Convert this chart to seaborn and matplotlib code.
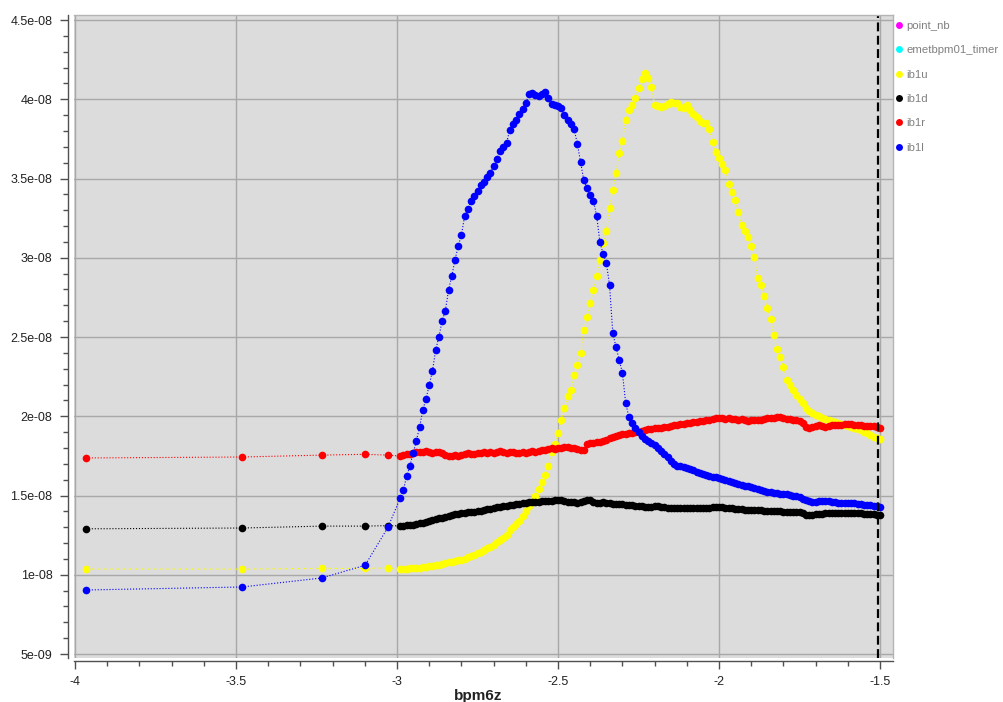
import numpy as np
import matplotlib
matplotlib.use('Agg')
import matplotlib.pyplot as plt
from matplotlib.lines import Line2D
from matplotlib.ticker import MultipleLocator, AutoMinorLocator, FuncFormatter
import seaborn as sns

sns.set_theme(style='ticks')
plt.rcParams['font.family'] = ['Liberation Sans', 'DejaVu Sans']

# scan positions (bpm6z)
bpm6z = [-3.966, -3.481, -3.233, -3.099, -3.028,
         -2.99, -2.98, -2.97, -2.96, -2.95, -2.94, -2.93, -2.92, -2.91, -2.90,
         -2.89, -2.88, -2.87, -2.86, -2.85, -2.84, -2.83, -2.82, -2.81, -2.80,
         -2.79, -2.78, -2.77, -2.76, -2.75, -2.74, -2.73, -2.72, -2.71, -2.70,
         -2.69, -2.68, -2.67, -2.66, -2.65, -2.64, -2.63, -2.62, -2.61, -2.60,
         -2.59, -2.58, -2.57, -2.56, -2.55, -2.54, -2.53, -2.52, -2.51, -2.50,
         -2.49, -2.48, -2.47, -2.46, -2.45, -2.44, -2.43, -2.42, -2.41, -2.40,
         -2.39, -2.38, -2.37, -2.36, -2.35, -2.34, -2.33, -2.32, -2.31, -2.30,
         -2.29, -2.28, -2.27, -2.26, -2.25, -2.24, -2.23, -2.22, -2.21, -2.20,
         -2.19, -2.18, -2.17, -2.16, -2.15, -2.14, -2.13, -2.12, -2.11, -2.10,
         -2.09, -2.08, -2.07, -2.06, -2.05, -2.04, -2.03, -2.02, -2.01, -2.00,
         -1.99, -1.98, -1.97, -1.96, -1.95, -1.94, -1.93, -1.92, -1.91, -1.90,
         -1.89, -1.88, -1.87, -1.86, -1.85, -1.84, -1.83, -1.82, -1.81, -1.80,
         -1.79, -1.78, -1.77, -1.76, -1.75, -1.74, -1.73, -1.72, -1.71, -1.70,
         -1.69, -1.68, -1.67, -1.66, -1.65, -1.64, -1.63, -1.62, -1.61, -1.60,
         -1.59, -1.58, -1.57, -1.56, -1.55, -1.54, -1.53, -1.52, -1.51, -1.50]

# currents, in units of 1e-9
ib1u = [10.36, 10.36, 10.40, 10.40, 10.43,
        10.36, 10.36, 10.36, 10.43, 10.43, 10.43, 10.43, 10.49, 10.49, 10.55,
        10.55, 10.62, 10.62, 10.68, 10.74, 10.80, 10.80, 10.87, 10.93, 10.93,
        10.99, 11.12, 11.18, 11.25, 11.37, 11.44, 11.56, 11.69, 11.75, 11.88,
        12.07, 12.19, 12.32, 12.51, 12.82, 13.01, 13.20, 13.39, 13.71, 14.02,
        14.34, 14.59, 14.97, 15.41, 15.85, 16.29, 16.86, 17.74, 18.25, 18.94,
        19.76, 20.52, 21.28, 21.66, 22.60, 23.23, 23.99, 25.44, 26.26, 27.14,
        27.96, 28.85, 29.86, 30.93, 31.69, 33.14, 34.27, 35.35, 36.61, 37.37,
        38.69, 39.32, 39.64, 40.08, 40.71, 41.28, 41.66, 41.34, 40.77, 39.64,
        39.57, 39.51, 39.57, 39.70, 39.83, 39.76, 39.76, 39.51, 39.45, 39.64,
        39.32, 39.07, 38.88, 38.63, 38.50, 38.50, 38.12, 37.30, 36.67, 36.29,
        35.91, 35.54, 34.65, 34.15, 33.64, 32.89, 32.07, 31.69, 31.31, 30.74,
        30.05, 28.72, 28.28, 27.59, 26.83, 26.14, 25.13, 24.24, 23.74, 23.11,
        22.29, 21.97, 21.66, 21.34, 21.09, 20.84, 20.52, 20.33, 20.20, 20.08,
        20.02, 19.89, 19.83, 19.76, 19.70, 19.64, 19.57, 19.51, 19.45, 19.38,
        19.32, 19.26, 19.20, 19.13, 19.01, 18.94, 18.82, 18.69, 18.63, 18.56]

ib1d = [12.90, 12.95, 13.07, 13.07, 13.10,
        13.08, 13.08, 13.14, 13.14, 13.14, 13.20, 13.26, 13.26, 13.33, 13.39,
        13.45, 13.52, 13.58, 13.58, 13.64, 13.71, 13.77, 13.83, 13.83, 13.90,
        13.90, 13.96, 13.96, 13.96, 14.02, 14.02, 14.09, 14.15, 14.15, 14.21,
        14.27, 14.27, 14.34, 14.34, 14.40, 14.40, 14.46, 14.46, 14.53, 14.53,
        14.59, 14.59, 14.59, 14.59, 14.65, 14.65, 14.65, 14.65, 14.72, 14.72,
        14.72, 14.65, 14.59, 14.59, 14.59, 14.53, 14.59, 14.65, 14.72, 14.72,
        14.59, 14.53, 14.53, 14.59, 14.53, 14.53, 14.46, 14.46, 14.46, 14.46,
        14.40, 14.40, 14.40, 14.34, 14.34, 14.34, 14.27, 14.27, 14.27, 14.34,
        14.34, 14.27, 14.27, 14.21, 14.21, 14.21, 14.21, 14.21, 14.21, 14.21,
        14.21, 14.21, 14.21, 14.21, 14.21, 14.21, 14.21, 14.27, 14.27, 14.27,
        14.27, 14.21, 14.21, 14.21, 14.15, 14.15, 14.15, 14.09, 14.09, 14.09,
        14.09, 14.09, 14.09, 14.02, 14.02, 14.02, 14.02, 14.02, 14.02, 13.96,
        13.96, 13.96, 13.96, 13.96, 13.96, 13.90, 13.77, 13.77, 13.77, 13.83,
        13.83, 13.83, 13.90, 13.90, 13.90, 13.90, 13.90, 13.90, 13.90, 13.90,
        13.90, 13.90, 13.90, 13.90, 13.83, 13.83, 13.83, 13.83, 13.77, 13.77]

ib1r = [17.37, 17.43, 17.55, 17.60, 17.55,
        17.49, 17.56, 17.62, 17.62, 17.68, 17.74, 17.74, 17.74, 17.81, 17.74,
        17.68, 17.74, 17.74, 17.68, 17.56, 17.49, 17.49, 17.56, 17.49, 17.56,
        17.62, 17.68, 17.62, 17.62, 17.68, 17.68, 17.74, 17.68, 17.74, 17.68,
        17.74, 17.81, 17.74, 17.68, 17.74, 17.74, 17.68, 17.68, 17.74, 17.68,
        17.74, 17.81, 17.74, 17.81, 17.87, 17.87, 17.93, 18.00, 17.93, 18.00,
        18.00, 18.06, 18.06, 18.00, 18.00, 17.93, 17.87, 17.87, 18.25, 18.31,
        18.31, 18.37, 18.37, 18.44, 18.50, 18.63, 18.69, 18.75, 18.82, 18.88,
        18.88, 18.94, 18.94, 19.01, 19.01, 19.07, 19.13, 19.20, 19.20, 19.26,
        19.26, 19.26, 19.32, 19.32, 19.38, 19.45, 19.45, 19.51, 19.51, 19.57,
        19.57, 19.64, 19.64, 19.70, 19.70, 19.76, 19.76, 19.83, 19.89, 19.89,
        19.89, 19.83, 19.89, 19.83, 19.83, 19.76, 19.83, 19.76, 19.70, 19.76,
        19.76, 19.76, 19.76, 19.83, 19.89, 19.89, 19.89, 19.95, 19.95, 19.89,
        19.83, 19.83, 19.76, 19.76, 19.70, 19.57, 19.32, 19.26, 19.32, 19.38,
        19.45, 19.38, 19.32, 19.38, 19.45, 19.45, 19.45, 19.45, 19.51, 19.51,
        19.51, 19.45, 19.45, 19.45, 19.38, 19.38, 19.38, 19.38, 19.32, 19.26]

ib1l = [9.04, 9.23, 9.80, 10.60, 13.00,
        14.84, 15.35, 16.23, 16.86, 17.68, 18.44, 19.32, 20.39, 21.09, 21.97,
        22.85, 24.18, 25.00, 26.01, 26.64, 27.96, 28.85, 29.86, 30.74, 31.43,
        32.63, 33.08, 33.58, 33.90, 34.21, 34.59, 34.78, 35.09, 35.35, 35.79,
        36.23, 36.73, 36.99, 37.24, 38.06, 38.44, 38.69, 39.07, 39.38, 39.76,
        40.33, 40.39, 40.27, 40.20, 40.33, 40.46, 40.08, 39.70, 39.64, 39.57,
        39.45, 39.00, 38.69, 38.44, 38.12, 37.18, 36.04, 34.90, 34.40, 33.96,
        33.58, 32.63, 30.99, 30.24, 29.67, 28.28, 25.25, 24.37, 23.55, 22.73,
        20.84, 19.95, 19.57, 19.26, 19.01, 18.75, 18.56, 18.44, 18.31, 18.19,
        18.00, 17.81, 17.62, 17.43, 17.18, 16.99, 16.86, 16.86, 16.80, 16.73,
        16.67, 16.61, 16.48, 16.42, 16.36, 16.29, 16.23, 16.17, 16.17, 16.10,
        16.04, 15.98, 15.91, 15.85, 15.79, 15.73, 15.66, 15.60, 15.60, 15.54,
        15.47, 15.41, 15.35, 15.28, 15.22, 15.22, 15.16, 15.16, 15.09, 15.09,
        15.09, 15.03, 14.97, 14.97, 14.90, 14.78, 14.72, 14.65, 14.59, 14.59,
        14.65, 14.65, 14.65, 14.65, 14.59, 14.59, 14.53, 14.53, 14.53, 14.53,
        14.53, 14.53, 14.46, 14.46, 14.40, 14.40, 14.40, 14.34, 14.34, 14.27]

legend_names = ['point_nb', 'emetbpm01_timer', 'ib1u', 'ib1d', 'ib1r', 'ib1l']
legend_colors = ['#ff00ff', '#00ffff', '#ffff00', '#000000', '#ff0000', '#0000ff']
cursor_x = -1.505

series = [('ib1u', ib1u, '#ffff00'), ('ib1d', ib1d, '#000000'),
          ('ib1r', ib1r, '#ff0000'), ('ib1l', ib1l, '#0000ff')]

fig = plt.figure(figsize=(10.04, 7.02), dpi=100)
ax = fig.add_axes([0.0737, 0.0627, 0.8157, 0.916])
ax.set_facecolor('#dcdcdc')

for name, vals, col in series:
    sns.lineplot(x=bpm6z, y=np.array(vals) * 1e-9, color=col, marker='o',
                 markersize=5.5, markeredgewidth=0, linestyle=':', linewidth=0.8,
                 sort=False, estimator=None, legend=False, ax=ax)

ax.axvline(cursor_x, color='black', linestyle=(0, (4, 2)), linewidth=1.6)

ax.set_xlim(-4.003, -1.46)
ax.set_ylim(4.75e-9, 45.32e-9)
ax.xaxis.set_major_locator(MultipleLocator(0.5))
ax.xaxis.set_minor_locator(AutoMinorLocator(5))
ax.yaxis.set_major_locator(MultipleLocator(5e-9))
ax.yaxis.set_minor_locator(AutoMinorLocator(5))
fmt = FuncFormatter(lambda v, p: '%g' % v)
ax.xaxis.set_major_formatter(fmt)
ax.yaxis.set_major_formatter(fmt)

ax.grid(True, which='major', color='#a8a8a8', linewidth=1.0)
ax.set_axisbelow(True)

ax.spines['left'].set_position(('outward', 4.5))
ax.spines['bottom'].set_position(('outward', 2))
for s in ['left', 'bottom']:
    ax.spines[s].set_color('#505050')
    ax.spines[s].set_linewidth(1.0)
for s in ['top', 'right']:
    ax.spines[s].set_color('#b4b4b4')
    ax.spines[s].set_linewidth(1.0)

ax.tick_params(which='major', length=6, width=1, color='#505050',
               labelsize=9, labelcolor='#222222', pad=5)
ax.tick_params(which='minor', length=3.5, width=1, color='#505050')

ax.set_xlabel('bpm6z', fontsize=11, fontweight='bold', color='#222222')
ax.xaxis.set_label_coords(0.494, -0.048)
ax.set_ylabel('')

handles = [Line2D([], [], marker='o', linestyle='none', color=c,
                  markeredgewidth=0, markersize=5) for c in legend_colors]
fig.legend(handles, legend_names, loc='upper left', bbox_to_anchor=(0.892, 0.970),
           frameon=False, fontsize=8.2, labelspacing=1.255, handlelength=0.6,
           handletextpad=0.35, borderaxespad=0, borderpad=0, labelcolor='#808080')

fig.savefig('out.png', dpi=100)
